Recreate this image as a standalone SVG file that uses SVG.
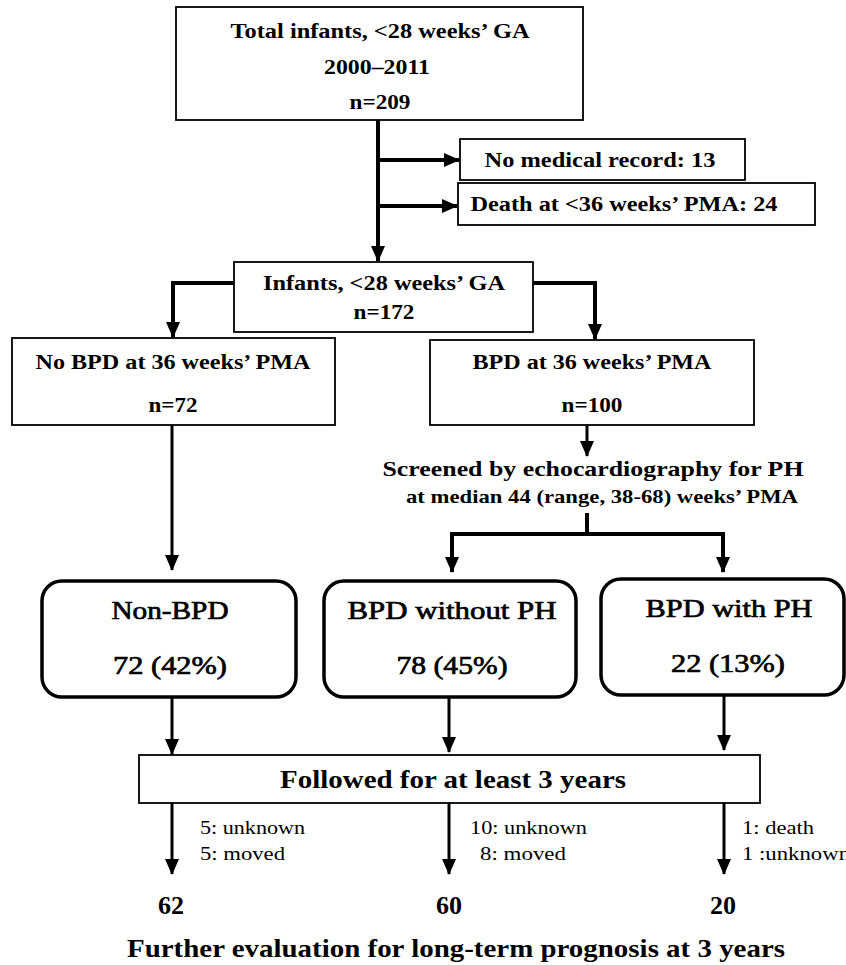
<svg xmlns="http://www.w3.org/2000/svg" width="846" height="965" viewBox="0 0 846 965">
<defs>
<style>
.box{fill:#fff;stroke:#000;stroke-width:1.8}
.rbox{fill:#fff;stroke:#000;stroke-width:3.5}
.c{fill:none;stroke:#000;stroke-width:4}
.c2{fill:none;stroke:#000;stroke-width:3}
text{font-family:"Liberation Serif","Times New Roman",serif;fill:#000;text-anchor:middle}
.b{font-weight:bold}
.m{font-weight:normal;stroke:#000;stroke-width:0.7}
.t20{font-size:20px}
.t22{font-size:22px}
.t19{font-size:19px}
.t26{font-size:26px}
.s{font-size:19px;text-anchor:start}
</style>
<marker id="ah" markerUnits="userSpaceOnUse" markerWidth="16" markerHeight="14" refX="15" refY="7" orient="auto">
<path d="M0,0 L16,7 L0,14 z" fill="#000"/>
</marker>
</defs>
<rect width="846" height="965" fill="#fff"/>
<g id="connectors">
<path class="c" d="M378,120 V261" marker-end="url(#ah)"/>
<path class="c" d="M378,160 H459" marker-end="url(#ah)"/>
<path class="c" d="M378,206 H457" marker-end="url(#ah)"/>
<path class="c" d="M234,283 H173 V337" marker-end="url(#ah)"/>
<path class="c" d="M533,283 H595 V339" marker-end="url(#ah)"/>
<path class="c2" d="M172,425 V570" marker-end="url(#ah)"/>
<path class="c2" d="M587,425 V456" marker-end="url(#ah)"/>
<path class="c" d="M587,513 V534 H452 V572" marker-end="url(#ah)"/>
<path class="c" d="M587,534 H723 V572" marker-end="url(#ah)"/>
<path class="c2" d="M172,697 V754" marker-end="url(#ah)"/>
<path class="c2" d="M449,697 V752" marker-end="url(#ah)"/>
<path class="c2" d="M724,695 V750" marker-end="url(#ah)"/>
<path class="c2" d="M172,803 V874" marker-end="url(#ah)"/>
<path class="c2" d="M449,803 V874" marker-end="url(#ah)"/>
<path class="c2" d="M724,803 V874" marker-end="url(#ah)"/>
</g>
<g id="total">
<rect class="box" x="176" y="7" width="407" height="113"/>
<text class="b t20" x="380" y="38" textLength="299" lengthAdjust="spacingAndGlyphs">Total infants, &lt;28 weeks’ GA</text>
<text class="b t20" x="377" y="74" textLength="106" lengthAdjust="spacingAndGlyphs">2000–2011</text>
<text class="b t20" x="380" y="109" textLength="61" lengthAdjust="spacingAndGlyphs">n=209</text>
</g>
<g id="nomedical">
<rect class="box" x="460" y="139" width="285" height="41"/>
<text class="b t20" x="600" y="167" textLength="231" lengthAdjust="spacingAndGlyphs">No medical record: 13</text>
</g>
<g id="death">
<rect class="box" x="458" y="183" width="357" height="42"/>
<text class="b t20" x="624" y="211" textLength="307" lengthAdjust="spacingAndGlyphs">Death at &lt;36 weeks’ PMA: 24</text>
</g>
<g id="infants">
<rect class="box" x="234" y="262" width="299" height="70"/>
<text class="b t20" x="384" y="290" textLength="242" lengthAdjust="spacingAndGlyphs">Infants, &lt;28 weeks’ GA</text>
<text class="b t20" x="384" y="319" textLength="61" lengthAdjust="spacingAndGlyphs">n=172</text>
</g>
<g id="nobpd">
<rect class="box" x="12" y="338" width="323" height="87"/>
<text class="b t20" x="173" y="369" textLength="275" lengthAdjust="spacingAndGlyphs">No BPD at 36 weeks’ PMA</text>
<text class="b t20" x="173" y="412" textLength="49" lengthAdjust="spacingAndGlyphs">n=72</text>
</g>
<g id="bpd">
<rect class="box" x="430" y="340" width="324" height="85"/>
<text class="b t20" x="592" y="369" textLength="239" lengthAdjust="spacingAndGlyphs">BPD at 36 weeks’ PMA</text>
<text class="b t20" x="592" y="412" textLength="61" lengthAdjust="spacingAndGlyphs">n=100</text>
</g>
<g id="screened">
<text class="b t22" x="593" y="476" textLength="421" lengthAdjust="spacingAndGlyphs">Screened by echocardiography  for PH</text>
<text class="b t19" x="602" y="503" textLength="392" lengthAdjust="spacingAndGlyphs">at median 44 (range, 38-68) weeks’ PMA</text>
</g>
<g id="nonbpd">
<rect class="rbox" x="42" y="581" width="254" height="116" rx="20"/>
<text class="m t26" x="170" y="619" textLength="117" lengthAdjust="spacingAndGlyphs">Non-BPD</text>
<text class="m t26" x="170" y="674" textLength="114" lengthAdjust="spacingAndGlyphs">72 (42%)</text>
</g>
<g id="bpdnoph">
<rect class="rbox" x="324" y="581" width="252" height="116" rx="20"/>
<text class="m t26" x="452" y="619" textLength="209" lengthAdjust="spacingAndGlyphs">BPD without PH</text>
<text class="m t26" x="452" y="674" textLength="111" lengthAdjust="spacingAndGlyphs">78 (45%)</text>
</g>
<g id="bpdph">
<rect class="rbox" x="601" y="579" width="243" height="116" rx="20"/>
<text class="m t26" x="729" y="617" textLength="167" lengthAdjust="spacingAndGlyphs">BPD with PH</text>
<text class="m t26" x="728" y="672" textLength="114" lengthAdjust="spacingAndGlyphs">22 (13%)</text>
</g>
<g id="followed">
<rect class="box" x="139" y="755" width="621" height="48"/>
<text class="b t26" x="453" y="788" textLength="346" lengthAdjust="spacingAndGlyphs">Followed for at least 3 years</text>
</g>
<g id="losses">
<text class="s" x="200" y="834" textLength="105" lengthAdjust="spacingAndGlyphs">5: unknown</text>
<text class="s" x="200" y="860" textLength="85" lengthAdjust="spacingAndGlyphs">5: moved</text>
<text class="s" x="470" y="834" textLength="117" lengthAdjust="spacingAndGlyphs">10: unknown</text>
<text class="s" x="480" y="860" textLength="86" lengthAdjust="spacingAndGlyphs">8: moved</text>
<text class="s" x="742" y="834" textLength="72" lengthAdjust="spacingAndGlyphs">1: death</text>
<text class="s" x="742" y="860" textLength="108" lengthAdjust="spacingAndGlyphs">1 :unknown</text>
</g>
<g id="counts">
<text class="b t26" x="171" y="914">62</text>
<text class="b t26" x="449" y="914">60</text>
<text class="b t26" x="723" y="914">20</text>
</g>
<g id="further">
<text class="b t26" x="456" y="957" textLength="658" lengthAdjust="spacingAndGlyphs">Further evaluation for long-term prognosis at 3 years</text>
</g>
</svg>
